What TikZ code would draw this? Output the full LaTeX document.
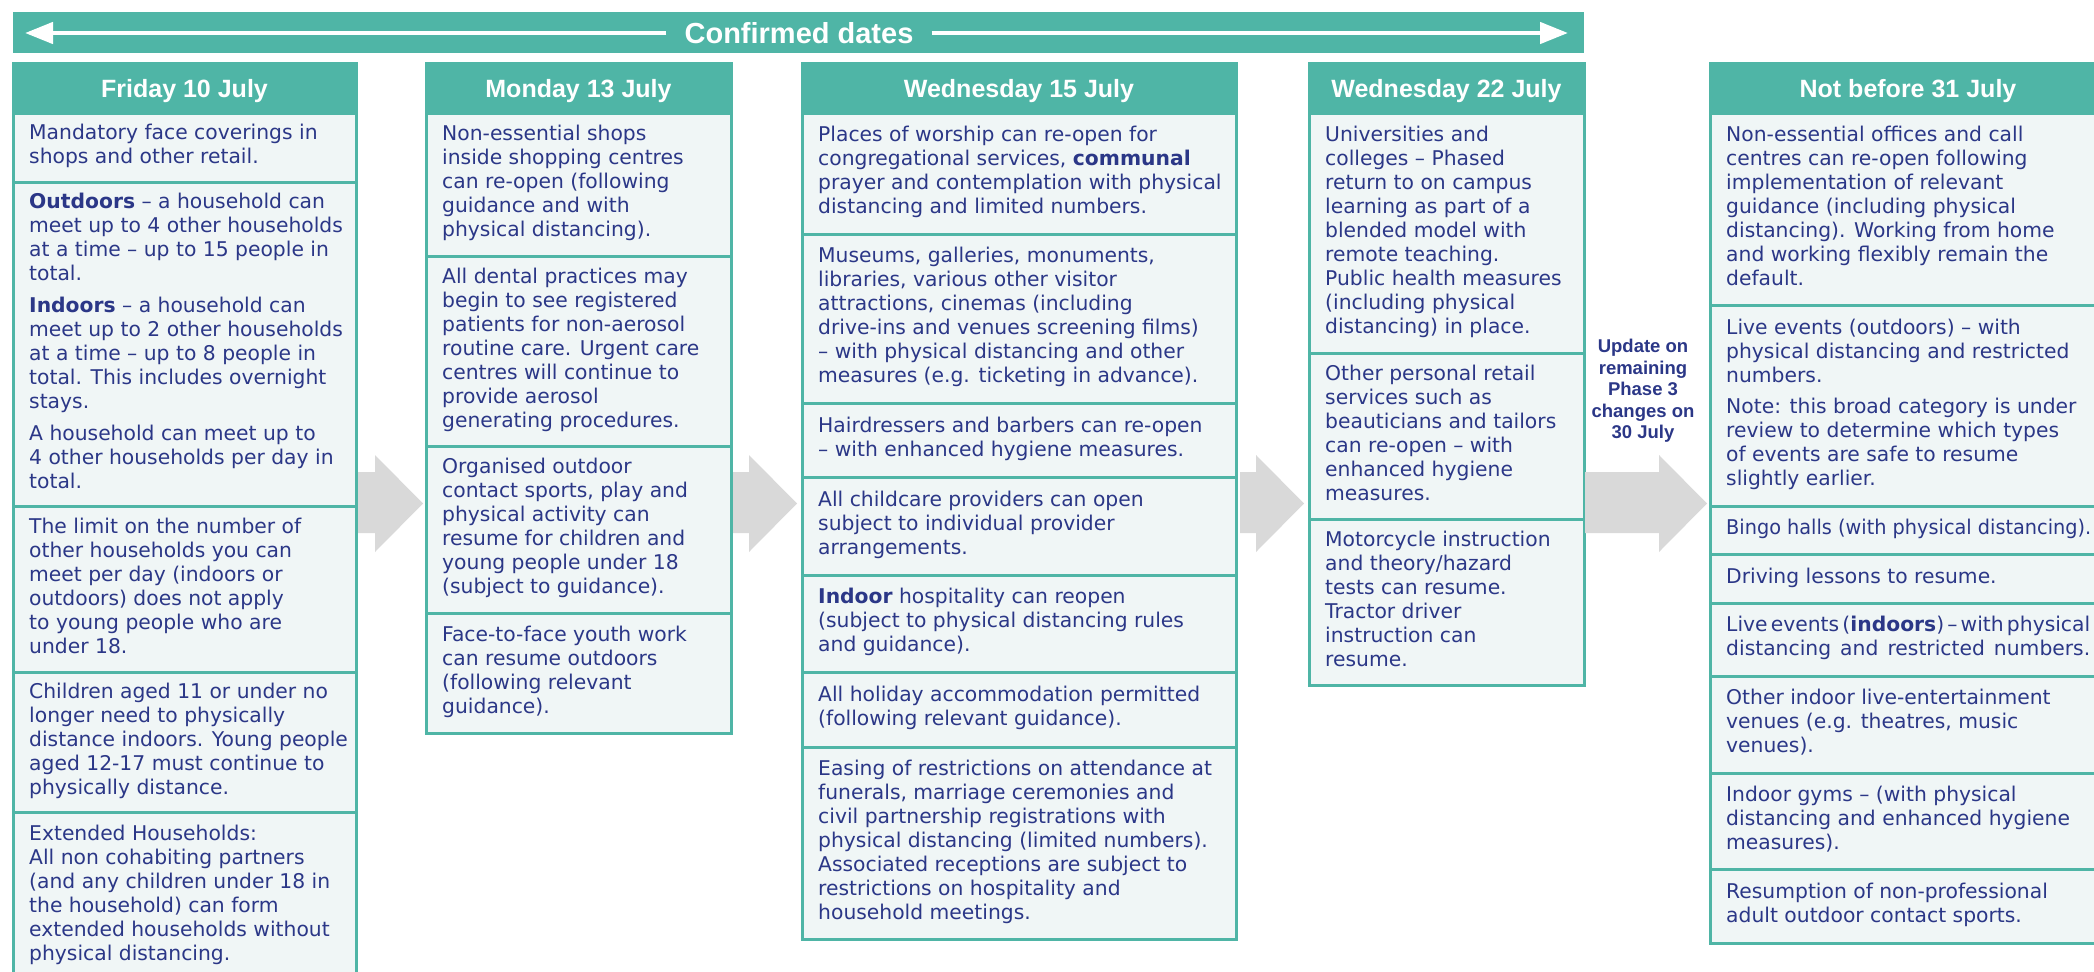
\documentclass[tikz,border=0pt]{standalone}
\usepackage{fontspec}
\setmainfont{DejaVu Sans}
\newfontfamily\hdfont{Liberation Sans}
\usetikzlibrary{arrows.meta}
\definecolor{rmTeal}{RGB}{79,181,166}
\definecolor{rmNavy}{RGB}{43,55,135}
\definecolor{rmFill}{RGB}{240,246,246}
\definecolor{rmGray}{RGB}{217,217,217}
\newcommand\ibox[6]{%
  \node[itembox, minimum width=#5pt, minimum height={(#4-#3)*1pt}] (#1) at (#2,#3) {};
  \node[itemtext] (#1t) at ([xshift=16pt]#1.west) {#6};}
\newcommand\blockarrow[3]{%
  \fill[rmGray] (#1,472) -- (#2,472) -- (#2,455) -- (#3,503.5) -- (#2,552) -- (#2,533) -- (#1,533) -- cycle;}
\newcommand\jline[1]{{\spaceskip=.22em plus .8em minus .1em\makebox[364pt][s]{#1}}}
\begin{document}
\begin{tikzpicture}[x=1pt,y=-1pt,
  itembox/.style={draw=rmTeal, fill=rmFill, line width=3pt, anchor=north west, inner sep=0pt, outer sep=0pt},
  itemtext/.style={anchor=west, inner sep=0pt, align=left, text=rmNavy,
    font=\fontsize{20.3}{24}\selectfont, execute at begin node=\strut, execute at end node=\strut},
  hdr/.style={draw=rmTeal, fill=rmTeal, line width=3pt, anchor=north west, inner sep=0pt, outer sep=0pt,
    minimum height=50pt, text=white, font=\hdfont\bfseries\fontsize{25}{28}\selectfont,
    text height=18pt, text depth=0pt},
  updtext/.style={align=center, inner sep=0pt, text=rmNavy, font=\hdfont\bfseries\fontsize{18.5}{21.5}\selectfont},
  bannertip/.style={white, line width=4.5pt, -{Triangle[length=28pt,width=21pt]}}
]
\useasboundingbox (0,0) rectangle (2094,972);
\clip (0,0) rectangle (2094,972);

% banner
\node[fill=rmTeal, anchor=north west, inner sep=0pt, minimum width=1571pt, minimum height=41pt] (banner) at (13,12) {};
\node[inner xsep=18pt, inner ysep=0pt, text=white, font=\hdfont\bfseries\fontsize{29}{32}\selectfont] (bannertxt) at (799,33) {Confirmed dates};
\coordinate (ltip) at (25,33);
\coordinate (rtip) at (1568,33);
\draw[bannertip] (bannertxt.west) -- (ltip);
\draw[bannertip] (bannertxt.east) -- (rtip);

% headers
\node[hdr, minimum width=343pt] (h1) at (13,63) {Friday 10 July};
\node[hdr, minimum width=305pt] (h2) at (426,63) {Monday 13 July};
\node[hdr, minimum width=434pt] (h3) at (802,63) {Wednesday 15 July};
\node[hdr, minimum width=275pt] (h4) at (1309,63) {Wednesday 22 July};
\node[hdr, minimum width=396pt] (h5) at (1710,63) {Not before 31 July};

% column 1
\ibox{a1}{13}{113}{182}{343}{Mandatory face coverings in\\shops and other retail.}
\ibox{a2}{13}{182}{506}{343}{\textbf{Outdoors} – a household can\\meet up to 4 other households\\at a time – up to 15 people in\\total.\\[8pt]\textbf{Indoors} – a household can\\meet up to 2 other households\\at a time – up to 8 people in\\total. This includes overnight\\stays.\\[8pt]A household can meet up to\\4 other households per day in\\total.}
\ibox{a3}{13}{506}{672}{343}{The limit on the number of\\other households you can\\meet per day (indoors or\\outdoors) does not apply\\to young people who are\\under 18.}
\ibox{a4}{13}{672}{812}{343}{Children aged 11 or under no\\longer need to physically\\distance indoors. Young people\\aged 12-17 must continue to\\physically distance.}
\ibox{a5}{13}{812}{981}{343}{Extended Households:\\All non cohabiting partners\\(and any children under 18 in\\the household) can form\\extended households without\\physical distancing.}

% column 2
\ibox{b1}{426}{113}{256}{305}{Non-essential shops\\inside shopping centres\\can re-open (following\\guidance and with\\physical distancing).}
\ibox{b2}{426}{256}{446}{305}{All dental practices may\\begin to see registered\\patients for non-aerosol\\routine care. Urgent care\\centres will continue to\\provide aerosol\\generating procedures.}
\ibox{b3}{426}{446}{613}{305}{Organised outdoor\\contact sports, play and\\physical activity can\\resume for children and\\young people under 18\\(subject to guidance).}
\ibox{b4}{426}{613}{733}{305}{Face-to-face youth work\\can resume outdoors\\(following relevant\\guidance).}

% column 3
\ibox{c1}{802}{113}{234}{434}{Places of worship can re-open for\\congregational services, \textbf{communal}\\prayer and contemplation with physical\\distancing and limited numbers.}
\ibox{c2}{802}{234}{403}{434}{Museums, galleries, monuments,\\libraries, various other visitor\\attractions, cinemas (including\\drive-ins and venues screening films)\\– with physical distancing and other\\measures (e.g. ticketing in advance).}
\ibox{c3}{802}{403}{477}{434}{Hairdressers and barbers can re-open\\– with enhanced hygiene measures.}
\ibox{c4}{802}{477}{575}{434}{All childcare providers can open\\subject to individual provider\\arrangements.}
\ibox{c5}{802}{575}{672}{434}{\textbf{Indoor} hospitality can reopen\\(subject to physical distancing rules\\and guidance).}
\ibox{c6}{802}{672}{747}{434}{All holiday accommodation permitted\\(following relevant guidance).}
\ibox{c7}{802}{747}{939}{434}{Easing of restrictions on attendance at\\funerals, marriage ceremonies and\\civil partnership registrations with\\physical distancing (limited numbers).\\Associated receptions are subject to\\restrictions on hospitality and\\household meetings.}

% column 4
\ibox{d1}{1309}{113}{353}{275}{Universities and\\colleges – Phased\\return to on campus\\learning as part of a\\blended model with\\remote teaching.\\Public health measures\\(including physical\\distancing) in place.}
\ibox{d2}{1309}{353}{519}{275}{Other personal retail\\services such as\\beauticians and tailors\\can re-open – with\\enhanced hygiene\\measures.}
\ibox{d3}{1309}{519}{685}{275}{Motorcycle instruction\\and theory/hazard\\tests can resume.\\Tractor driver\\instruction can\\resume.}

% update note
\node[updtext] (upd) at (1643,391) {Update on\\remaining\\Phase 3\\changes on\\30 July};

% column 5
\ibox{e1}{1710}{113}{305}{396}{Non-essential offices and call\\centres can re-open following\\implementation of relevant\\guidance (including physical\\distancing). Working from home\\and working flexibly remain the\\default.}
\ibox{e2}{1710}{305}{506}{396}{Live events (outdoors) – with\\physical distancing and restricted\\numbers.\\[7pt]Note: this broad category is under\\review to determine which types\\of events are safe to resume\\slightly earlier.}
\ibox{e3}{1710}{506}{554}{396}{\scalebox{0.95}[1]{Bingo halls (with physical distancing).}}
\ibox{e4}{1710}{554}{603}{396}{Driving lessons to resume.}
\ibox{e5}{1710}{603}{676}{396}{\jline{Live events (\textbf{indoors}) – with physical}\\\jline{distancing and restricted numbers.}}
\ibox{e6}{1710}{676}{773}{396}{Other indoor live-entertainment\\venues (e.g. theatres, music\\venues).}
\ibox{e7}{1710}{773}{869}{396}{Indoor gyms – (with physical\\distancing and enhanced hygiene\\measures).}
\ibox{e8}{1710}{869}{943}{396}{Resumption of non-professional\\adult outdoor contact sports.}

% grey block arrows between columns
\blockarrow{358}{375}{423}
\blockarrow{733}{749}{797}
\blockarrow{1240}{1256}{1304}
\blockarrow{1585}{1659}{1707}
\end{tikzpicture}
\end{document}
